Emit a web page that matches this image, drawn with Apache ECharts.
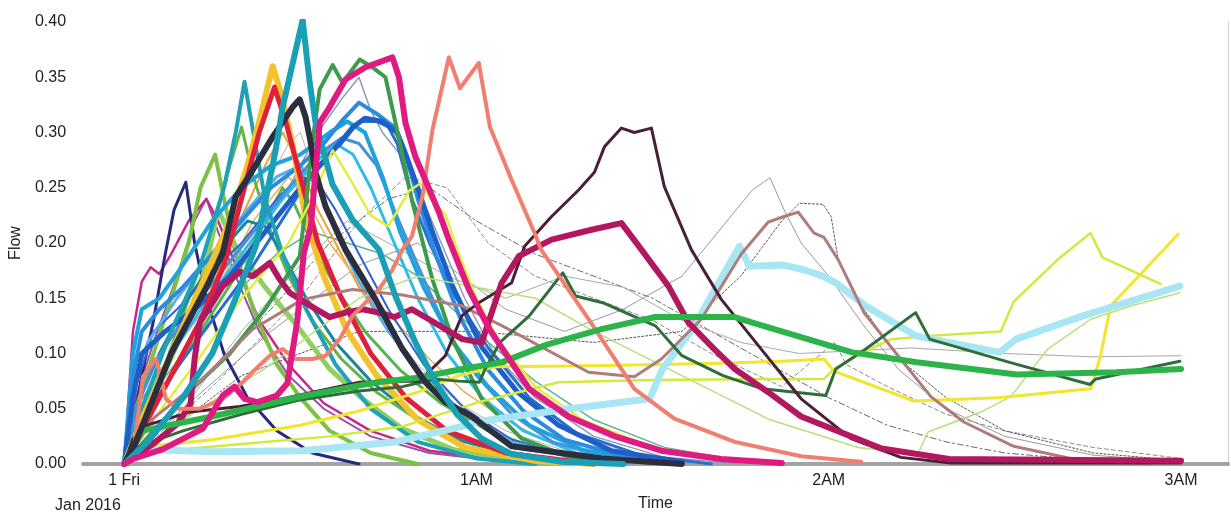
<!DOCTYPE html>
<html>
<head>
<meta charset="utf-8">
<script src="https://cdn.jsdelivr.net/npm/echarts@6/dist/echarts.min.js"></script>
<style>
  html, body { margin: 0; padding: 0; background: #fff; }
  #main { width: 1231px; height: 517px; }
</style>
</head>
<body>
<div id="main"></div>
<script>
// time in minutes after midnight (1 Fri Jan 2016), flow values
var tickMinutes = [0, 60, 120, 180];
var tickLabels = ['1 Fri', '1AM', '2AM', '3AM'];

// thin / dotted background lines
var grayDashDot = [[0,0],[10,0.06],[25,0.14],[35,0.2],[45,0.24],[52,0.25],[60,0.22],[70,0.19],[80,0.17],[90,0.15],[100,0.12],[110,0.09],[120,0.06],[130,0.035],[140,0.02],[150,0.01],[165,0.003]];
var grayDashed = [[0,0],[15,0.07],[30,0.15],[40,0.22],[48,0.26],[55,0.25],[62,0.2],[70,0.17],[80,0.15],[90,0.13],[100,0.1],[112,0.07],[121,0.11],[123,0.09],[130,0.07],[140,0.045],[150,0.03],[165,0.015],[180,0.005]];
var grayFlat = [[0,0],[10,0.05],[20,0.12],[30,0.18],[38,0.22],[45,0.2],[55,0.17],[65,0.15],[75,0.17],[85,0.16],[95,0.13],[105,0.11],[115,0.1],[134,0.105],[150,0.1],[165,0.097],[180,0.098]];
var grayPeak = [[0,0],[10,0.05],[25,0.12],[40,0.18],[50,0.2],[55,0.18],[65,0.14],[75,0.12],[85,0.14],[95,0.17],[101,0.209],[107,0.248],[110,0.259],[111.4,0.242],[112.4,0.23],[115.3,0.2],[120,0.17],[126,0.125],[132,0.085],[140,0.05],[150,0.025],[165,0.008],[180,0.002]];
var grayEarly = [[0,0],[2,0.06],[6,0.1],[12,0.15],[18,0.2],[24,0.25],[28,0.29],[30,0.3],[32,0.27],[35,0.23],[39,0.18],[44,0.13],[50,0.09],[57,0.055],[65,0.03],[75,0.012],[88,0.003]];
var darkDotted = [[0,0],[20,0.08],[40,0.12],[60,0.12],[80,0.11],[95,0.12],[105,0.17],[112,0.22],[115,0.236],[119,0.235],[120.4,0.224],[121.6,0.185],[126,0.14],[132,0.095],[140,0.06],[150,0.03],[165,0.01],[180,0.003]];
var slateThin = [[0,0],[2,0.05],[8,0.1],[15,0.15],[22,0.2],[28,0.25],[33,0.3],[37,0.33],[40,0.35],[42,0.32],[44,0.3],[47,0.28],[50,0.25],[54,0.2],[58,0.15],[63,0.1],[70,0.06],[80,0.025],[92,0.006],[105,0]];
var violetThin = [[0,0],[2,0.06],[5,0.11],[9,0.17],[12,0.22],[14,0.24],[16,0.21],[19,0.17],[23,0.12],[28,0.08],[34,0.05],[42,0.025],[52,0.01],[65,0.002]];
var magentaThin = [[0,0],[1.5,0.12],[3,0.165],[4.5,0.178],[6,0.172],[8,0.19],[11,0.22],[14,0.24],[16,0.22],[19,0.18],[23,0.13],[28,0.09],[34,0.055],[42,0.03],[52,0.012],[65,0.003],[75,0]];
var seaGreenThin = [[0,0],[3,0.05],[10,0.1],[18,0.15],[26,0.19],[32,0.21],[38,0.2],[44,0.19],[50,0.17],[56,0.14],[62,0.11],[70,0.075],[80,0.04],[92,0.015],[105,0.003]];
var orangeThin = [[0,0],[5,0.05],[12,0.12],[18,0.2],[24,0.27],[27,0.3],[30,0.27],[33,0.23],[36,0.2],[40,0.16],[45,0.12],[50,0.085],[56,0.055],[62,0.03],[70,0.012],[80,0.003],[90,0]];
var orangeThin2 = [[0,0],[4,0.04],[10,0.1],[16,0.16],[22,0.22],[28,0.26],[31,0.24],[35,0.2],[40,0.165],[46,0.13],[52,0.095],[58,0.065],[65,0.04],[73,0.018],[84,0.005],[95,0]];

// blue family
var blue1 = [[0,0],[1.5,0.08],[3,0.12],[6,0.14],[10,0.16],[15,0.19],[20,0.22],[25,0.25],[30,0.27],[34,0.29],[37,0.31],[40,0.327],[43,0.317],[46,0.305],[48,0.28],[50,0.24],[53,0.19],[57,0.135],[62,0.085],[68,0.048],[75,0.022],[85,0.007],[95,0.001]];
var blue2 = [[0,0],[1.5,0.06],[3,0.1],[7,0.12],[12,0.14],[18,0.17],[24,0.21],[30,0.25],[35,0.28],[39,0.305],[41,0.313],[44,0.31],[46.5,0.3],[48,0.28],[50,0.25],[52.5,0.21],[56,0.16],[61,0.105],[67,0.065],[74,0.035],[83,0.012],[95,0.002]];
var blue3 = [[0,0],[2,0.05],[5,0.09],[10,0.13],[16,0.17],[22,0.21],[28,0.25],[33,0.28],[37,0.295],[40,0.29],[43,0.27],[46,0.23],[50,0.18],[55,0.12],[60,0.08],[66,0.045],[73,0.02],[82,0.006],[90,0]];
var blue4 = [[0,0],[1.5,0.1],[3,0.14],[6,0.15],[10,0.18],[15,0.22],[20,0.25],[25,0.27],[30,0.28],[35,0.3],[38,0.31],[41,0.3],[44,0.26],[47,0.21],[51,0.16],[56,0.11],[62,0.07],[69,0.035],[78,0.013],[88,0.003]];
var blue5 = [[0,0],[2,0.07],[5,0.12],[9,0.14],[14,0.17],[20,0.2],[26,0.24],[30,0.26],[33,0.255],[36,0.23],[40,0.19],[45,0.14],[51,0.09],[58,0.05],[66,0.022],[76,0.007],[86,0]];
var blue6 = [[0,0],[2,0.03],[8,0.08],[15,0.13],[22,0.18],[28,0.23],[33,0.27],[37,0.29],[40,0.31],[43,0.31],[45,0.305],[46.5,0.29],[47.5,0.27],[49,0.24],[52,0.2],[56,0.155],[62,0.105],[69,0.06],[77,0.028],[88,0.008],[100,0]];
var skyBlue = [[0,0],[1.5,0.07],[4,0.11],[9,0.15],[15,0.19],[21,0.23],[26,0.26],[30,0.27],[33,0.25],[36,0.21],[40,0.165],[45,0.12],[51,0.08],[58,0.045],[66,0.02],[76,0.006],[86,0]];
var cyan = [[0,0],[2,0.04],[7,0.09],[13,0.14],[20,0.19],[27,0.24],[32,0.27],[36,0.29],[39,0.28],[42,0.25],[46,0.2],[50,0.15],[55,0.1],[61,0.06],[68,0.03],[77,0.01],[88,0.002]];
var darkTeal = [[0,0],[2,0.05],[6,0.1],[11,0.15],[16,0.19],[21,0.22],[24,0.215],[27,0.19],[31,0.15],[36,0.11],[42,0.075],[49,0.045],[57,0.022],[66,0.008],[76,0.001]];
var navy = [[0,0],[1,0.02],[3,0.08],[5,0.13],[7,0.19],[8.5,0.23],[10.5,0.255],[12,0.2],[14,0.15],[17,0.1],[21,0.06],[26,0.03],[32,0.01],[40,0]];

// green family
var grassGreen = [[0,0],[2,0.05],[5,0.1],[8,0.15],[11,0.2],[13,0.25],[15.5,0.28],[17,0.24],[19,0.19],[22,0.14],[26,0.09],[30,0.06],[35,0.03],[42,0.01],[50,0]];
var green2 = [[0,0],[3,0.04],[7,0.09],[11,0.15],[15,0.21],[18,0.27],[20,0.305],[22,0.26],[25,0.21],[28,0.17],[32,0.13],[37,0.095],[43,0.065],[50,0.04],[58,0.02],[68,0.007],[80,0]];
var green3 = [[0,0],[5,0.06],[10,0.12],[14,0.18],[16,0.23],[19,0.197],[24,0.16],[29.9,0.122],[35,0.086],[40.6,0.059],[47.4,0.032],[55.9,0.0135],[64.3,0.005],[75,0]];
var midGreen = [[0,0],[2,0.03],[7,0.07],[13,0.12],[19,0.17],[24,0.22],[27,0.25],[29,0.235],[32,0.2],[36,0.16],[41,0.12],[47,0.085],[54,0.055],[62,0.03],[71,0.013],[82,0.004],[95,0]];
var forestGreen = [[0,0],[5,0.03],[12,0.07],[18,0.1],[24,0.14],[29.9,0.188],[30.9,0.233],[32.1,0.293],[33.3,0.339],[35.5,0.361],[37.2,0.345],[40.1,0.366],[42.3,0.359],[44.5,0.35],[46.5,0.302],[49,0.239],[52.5,0.167],[55.9,0.113],[60.9,0.059],[67.7,0.023],[76,0.006],[85,0.002]];
var paleLime = [[0,0],[10,0.04],[25,0.09],[40,0.15],[50,0.17],[60,0.16],[70,0.15],[80,0.12],[95,0.08],[110,0.04],[125,0.015],[135.2,0.009],[136.9,0.029],[145.9,0.047],[151,0.061],[157.3,0.104],[164.6,0.131],[171.4,0.143],[179.8,0.155]];
var darkGreen = [[0,0],[2,0.015],[10,0.03],[20,0.045],[30,0.058],[40,0.066],[47.4,0.07],[53,0.077],[57,0.075],[60.5,0.074],[61.5,0.086],[64,0.11],[69,0.134],[74.7,0.173],[76.9,0.152],[81.5,0.146],[90.5,0.125],[95,0.098],[102,0.08],[108.7,0.068],[119.5,0.062],[121.2,0.086],[126.3,0.104],[134.8,0.137],[137.2,0.113],[150.8,0.092],[164.5,0.072],[165.5,0.077],[179.8,0.093]];
var brightGreen = [[0,0],[3,0.03],[15,0.043],[30,0.061],[43,0.074],[50,0.078],[57.6,0.086],[64.3,0.092],[72,0.108],[81.3,0.122],[90.5,0.133],[104,0.133],[107,0.128],[112,0.12],[124,0.101],[135,0.092],[152,0.081],[169,0.083],[180,0.086]];

// yellow family
var yellowLime = [[0,0],[5,0.04],[12,0.09],[20,0.15],[28,0.2],[32,0.24],[35.5,0.284],[38.9,0.254],[42,0.225],[45,0.215],[48.5,0.247],[50.5,0.254],[52.5,0.238],[54.7,0.226],[57,0.19],[60,0.15],[64,0.11],[70,0.07],[78,0.04],[90,0.015],[105,0.003]];
var yellow = [[0,0],[2,0.015],[15,0.022],[30,0.035],[40,0.048],[50,0.065],[57,0.08],[63.2,0.088],[80,0.089],[100,0.091],[112,0.093],[119.2,0.095],[120.9,0.084],[134.5,0.057],[148.8,0.06],[164.6,0.068],[166.3,0.098],[168,0.143],[179.5,0.208]];
var lime = [[0,0],[3,0.01],[20,0.018],[35,0.025],[47.4,0.034],[60.4,0.056],[74,0.074],[90,0.076],[110,0.077],[119.2,0.077],[120.9,0.086],[126,0.101],[130.6,0.113],[137.4,0.116],[149.3,0.12],[151.5,0.147],[159,0.185],[164.6,0.209],[166.6,0.187],[176.5,0.163]];
var goldThick = [[0,0],[3,0.04],[8,0.1],[13,0.16],[18,0.22],[21,0.27],[23,0.31],[25.3,0.36],[27,0.33],[29,0.28],[31,0.22],[34,0.17],[38,0.12],[43,0.08],[50,0.04],[58,0.015],[70,0.003],[80,0]];

// red / pink family
var red = [[0,0],[3,0.03],[8,0.08],[13,0.13],[17,0.18],[19,0.22],[21,0.26],[23,0.3],[25.6,0.341],[27.5,0.31],[30,0.26],[33,0.2],[37,0.15],[42,0.1],[48,0.06],[55,0.03],[65,0.01],[80,0]];
var salmon = [[0,0],[1.5,0.007],[3.2,0.079],[4.4,0.088],[5.4,0.095],[6.1,0.083],[7.1,0.059],[9.1,0.05],[12.9,0.05],[16.8,0.059],[20.2,0.074],[22.4,0.086],[24.8,0.098],[27,0.104],[29.2,0.095],[32.1,0.095],[34.3,0.098],[36.7,0.113],[38.9,0.134],[41.1,0.146],[43.4,0.158],[45.7,0.176],[47.4,0.194],[49,0.206],[50.8,0.242],[52.5,0.302],[55.3,0.368],[57.2,0.34],[60.4,0.363],[62.3,0.305],[66,0.257],[69.9,0.209],[71,0.194],[79.1,0.131],[86.9,0.068],[93.7,0.041],[104,0.02],[115.3,0.007],[125.5,0.002]];
var mauve = [[0,0],[4.9,0.041],[13.4,0.077],[21.9,0.122],[30.4,0.149],[38.9,0.158],[47.4,0.153],[57.6,0.143],[64.4,0.125],[79.1,0.083],[86.9,0.079],[91.5,0.095],[98.3,0.131],[105.1,0.19],[109.7,0.219],[112.4,0.224],[114.8,0.228],[117.5,0.209],[119.2,0.205],[121.6,0.185],[126,0.137],[131.8,0.098],[137.4,0.061],[143,0.038],[151.5,0.016],[163,0.003],[175,0]];
var darkPlum = [[0,0],[1.5,0.023],[3.2,0.034],[11.2,0.047],[19.7,0.052],[27,0.059],[32.1,0.065],[40.1,0.074],[50.2,0.075],[52.4,0.086],[54.7,0.098],[57.5,0.134],[60.4,0.146],[66,0.164],[68.2,0.197],[72.8,0.224],[77.4,0.248],[80.1,0.264],[81.8,0.287],[84.7,0.304],[86.9,0.3],[89.8,0.304],[92,0.251],[96.6,0.194],[101.7,0.149],[108.5,0.104],[115.3,0.059],[123.8,0.023],[132.3,0.006],[140.8,0.001],[180,0.001]];
var crimson = [[0,0],[4.9,0.018],[9,0.036],[11.3,0.054],[12,0.095],[12.9,0.128],[16.8,0.161],[19.7,0.174],[21.9,0.17],[24.8,0.182],[26.5,0.167],[28.2,0.155],[32.1,0.142],[35,0.133],[37.7,0.137],[40.6,0.14],[43.4,0.137],[46.1,0.133],[49,0.14],[51.9,0.131],[54.7,0.122],[57.6,0.113],[60.9,0.11],[64.3,0.164],[67.2,0.188],[72.8,0.203],[79.6,0.212],[84.7,0.218],[88.1,0.194],[92.7,0.161],[96.1,0.128],[100.5,0.104],[104,0.086],[109.7,0.065],[115.3,0.043],[123.8,0.025],[129,0.014],[140.5,0.0045],[180,0.003]];
var hotPink = [[0,0],[1.5,0.0045],[6.6,0.0135],[13.4,0.032],[16.8,0.062],[18.8,0.07],[20.5,0.059],[22.7,0.056],[26,0.062],[27.8,0.073],[29.5,0.13],[30.6,0.191],[31.8,0.215],[33.3,0.309],[35,0.323],[37.7,0.348],[41.1,0.359],[45.7,0.368],[46.8,0.35],[47.9,0.309],[49.6,0.278],[51.3,0.257],[53.6,0.228],[55.3,0.203],[58.7,0.158],[62.2,0.122],[69,0.068],[75.7,0.043],[83.6,0.025],[91.5,0.012],[101.7,0.0045],[112,0.001]];

// thick dark / teal / pale cyan
var teal2 = [[0,0],[3,0.05],[8,0.12],[13,0.18],[17,0.25],[19,0.3],[20.5,0.346],[22,0.3],[24,0.24],[27,0.19],[31,0.14],[36,0.09],[42,0.05],[50,0.02],[60,0.005],[70,0]];
var tealThick = [[0,0],[4,0.02],[10,0.06],[15,0.1],[19,0.15],[22.4,0.197],[24.1,0.239],[25.8,0.284],[27,0.323],[30.4,0.402],[31.6,0.345],[32.6,0.309],[35.5,0.253],[38.9,0.221],[43.4,0.194],[46.2,0.152],[49.6,0.11],[53,0.074],[56.7,0.045],[60.9,0.023],[66,0.009],[74.5,0.002],[85,0]];
var blackThick = [[0,0],[2,0.02],[5,0.06],[8,0.1],[11,0.13],[14,0.16],[16.8,0.191],[19,0.242],[21.9,0.266],[25.3,0.296],[28.7,0.323],[29.9,0.33],[30.9,0.314],[31.7,0.293],[32.6,0.264],[34.3,0.233],[37.7,0.194],[42.8,0.149],[47.4,0.104],[51.3,0.074],[54.7,0.056],[59.2,0.043],[66,0.016],[81.3,0.005],[95,0]];
var paleCyan = [[0,0],[1.4,0.0135],[15,0.011],[30.4,0.012],[46.2,0.02],[57.6,0.034],[59.8,0.038],[75.9,0.05],[89.5,0.059],[91.7,0.086],[96.8,0.122],[104.8,0.197],[106.5,0.179],[112.2,0.18],[115.6,0.176],[119,0.17],[121.2,0.164],[126.3,0.143],[134.8,0.116],[149.1,0.101],[151.9,0.113],[163.3,0.134],[179.8,0.161]];

var lines = [
  { name: 'g1', data: grayDashDot, color: '#6a6a6a', width: 1, type: [6, 3, 2, 3] },
  { name: 'g2', data: grayDashed, color: '#8a8a8a', width: 1, type: [4, 3] },
  { name: 'g3', data: grayFlat, color: '#a8a8a8', width: 1, type: 'solid' },
  { name: 'g4', data: grayPeak, color: '#9a9a9a', width: 1, type: 'solid' },
  { name: 'g6', data: grayEarly, color: '#b0b0b0', width: 1, type: 'solid' },
  { name: 'g5', data: darkDotted, color: '#555555', width: 1, type: [2, 2] },
  { name: 'slate', data: slateThin, color: '#8a9ab5', width: 1.5, type: 'solid' },
  { name: 'violet', data: violetThin, color: '#9a4fa8', width: 2, type: 'solid' },
  { name: 'seagreen', data: seaGreenThin, color: '#5fb39a', width: 1.5, type: 'solid' },
  { name: 'orange1', data: orangeThin, color: '#f0a030', width: 2, type: 'solid' },
  { name: 'orange2', data: orangeThin2, color: '#e8b050', width: 1.5, type: 'solid' },
  { name: 'magentaThin', data: magentaThin, color: '#c4288c', width: 2.5, type: 'solid' },
  { name: 'navy', data: navy, color: '#262a7c', width: 3, type: 'solid' },
  { name: 'grass', data: grassGreen, color: '#7cc142', width: 4, type: 'solid' },
  { name: 'midGreen', data: midGreen, color: '#58b44e', width: 3, type: 'solid' },
  { name: 'green2', data: green2, color: '#63b54a', width: 3, type: 'solid' },
  { name: 'green3', data: green3, color: '#8fd060', width: 5, type: 'solid' },
  { name: 'darkTeal', data: darkTeal, color: '#168a9c', width: 3, type: 'solid' },
  { name: 'blue5', data: blue5, color: '#3462c8', width: 2, type: 'solid' },
  { name: 'skyBlue', data: skyBlue, color: '#5aaeea', width: 3, type: 'solid' },
  { name: 'cyan', data: cyan, color: '#2fbce6', width: 3, type: 'solid' },
  { name: 'blue3', data: blue3, color: '#4a90d9', width: 3, type: 'solid' },
  { name: 'blue4', data: blue4, color: '#1ea3dc', width: 4, type: 'solid' },
  { name: 'blue6', data: blue6, color: '#2a6ed0', width: 3, type: 'solid' },
  { name: 'blue1', data: blue1, color: '#2b8be0', width: 4, type: 'solid' },
  { name: 'blue2', data: blue2, color: '#1e5fc5', width: 5, type: 'solid' },
  { name: 'teal2', data: teal2, color: '#1fa2b8', width: 4, type: 'solid' },
  { name: 'gold', data: goldThick, color: '#f6c22c', width: 6, type: 'solid' },
  { name: 'red', data: red, color: '#e01f3d', width: 5, type: 'solid' },
  { name: 'forest', data: forestGreen, color: '#3e9a4c', width: 4, type: 'solid' },
  { name: 'yellowLime', data: yellowLime, color: '#e2ee3c', width: 2.5, type: 'solid' },
  { name: 'paleLime', data: paleLime, color: '#b4e27a', width: 1.5, type: 'solid' },
  { name: 'lime', data: lime, color: '#d2ea3e', width: 2.5, type: 'solid' },
  { name: 'yellow', data: yellow, color: '#f2e52a', width: 3, type: 'solid' },
  { name: 'paleCyan', data: paleCyan, color: '#a9e6f4', width: 7, type: 'solid' },
  { name: 'mauve', data: mauve, color: '#b27b7b', width: 3, type: 'solid' },
  { name: 'darkGreen', data: darkGreen, color: '#2f6e3a', width: 3, type: 'solid' },
  { name: 'darkPlum', data: darkPlum, color: '#4a2036', width: 3, type: 'solid' },
  { name: 'crimson', data: crimson, color: '#b3175f', width: 6, type: 'solid' },
  { name: 'salmon', data: salmon, color: '#f17e6e', width: 4, type: 'solid' },
  { name: 'brightGreen', data: brightGreen, color: '#2cb34a', width: 6, type: 'solid' },
  { name: 'black', data: blackThick, color: '#2c2d3e', width: 6, type: 'solid' },
  { name: 'teal', data: tealThick, color: '#1aa0b6', width: 6, type: 'solid' },
  { name: 'hotPink', data: hotPink, color: '#df1a80', width: 6, type: 'solid' }
];

var chart = echarts.init(document.getElementById('main'));

var series = lines.map(function (l) {
  return {
    name: l.name,
    type: 'line',
    data: l.data,
    symbol: 'none',
    showSymbol: false,
    lineStyle: { color: l.color, width: l.width, type: l.type, cap: 'round', join: 'round' },
    silent: true
  };
});

chart.setOption({
  animation: false,
  backgroundColor: '#fff',
  grid: { left: 80, right: 3, top: 22, bottom: 50 },
  xAxis: {
    type: 'value',
    min: -7,
    max: 188,
    name: 'Time',
    nameLocation: 'middle',
    nameGap: 32,
    nameTextStyle: { color: '#222', fontSize: 16, fontFamily: 'Liberation Sans' },
    axisLine: { show: true, lineStyle: { color: '#a3a3a3', width: 4 } },
    axisTick: { show: false },
    splitLine: { show: false },
    axisLabel: {
      customValues: tickMinutes,
      margin: 9,
      color: '#222',
      fontSize: 16,
      fontFamily: 'Liberation Sans',
      formatter: function (v) {
        var i = tickMinutes.indexOf(v);
        return i >= 0 ? tickLabels[i] : '';
      }
    }
  },
  yAxis: [{
    type: 'value',
    min: 0,
    max: 0.4,
    interval: 0.05,
    name: 'Flow',
    nameLocation: 'middle',
    nameGap: 57,
    nameRotate: 90,
    nameTextStyle: { color: '#222', fontSize: 16, fontFamily: 'Liberation Sans' },
    axisLine: { show: false },
    axisTick: { show: false },
    splitLine: { show: false },
    axisLabel: {
      margin: 17,
      color: '#222',
      fontSize: 16,
      fontFamily: 'Liberation Sans',
      formatter: function (v) { return v.toFixed(2); }
    }
  }, {
    type: 'value',
    position: 'right',
    min: 0,
    max: 0.4,
    axisLine: { show: true, lineStyle: { color: '#d0d0d0', width: 1 } },
    axisTick: { show: false },
    axisLabel: { show: false },
    splitLine: { show: false }
  }],
  graphic: [{
    type: 'text',
    left: 55,
    top: 498,
    style: { text: 'Jan 2016', fill: '#222', font: '16px "Liberation Sans"' }
  }],
  series: series
});
</script>
</body>
</html>
